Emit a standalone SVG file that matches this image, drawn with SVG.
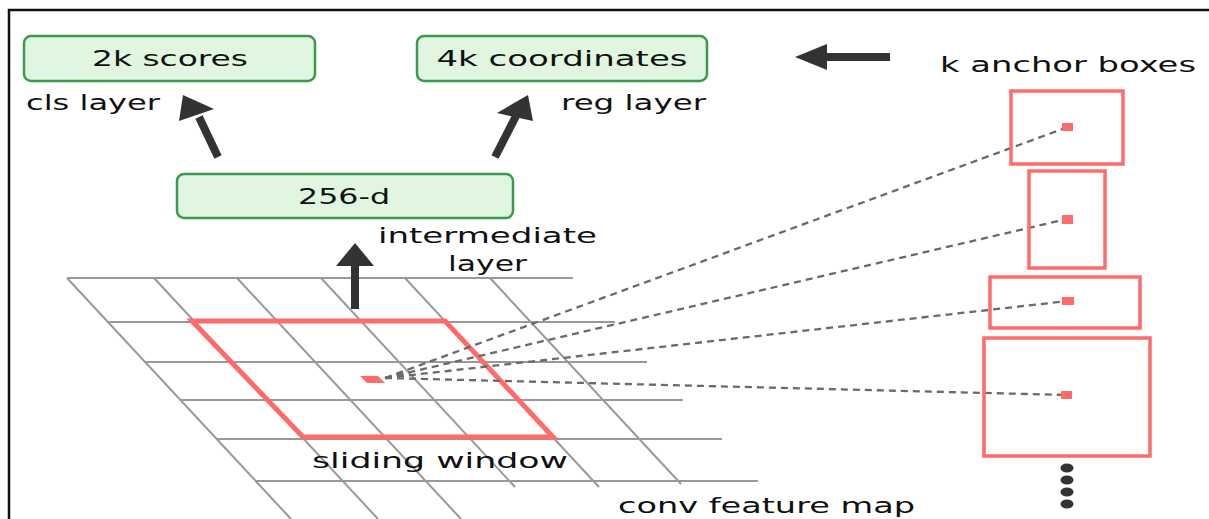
<svg xmlns="http://www.w3.org/2000/svg" width="1209" height="519" viewBox="0 0 1209 519">
<style>
.frame{stroke:#111;stroke-width:2.5;fill:none}
.node rect{fill:#e1f6e1;stroke:#3b9a4b;stroke-width:2.5}
.t{font-family:"DejaVu Sans","Liberation Sans",sans-serif;font-size:22px;fill:#111}
.grid line{stroke:#999;stroke-width:2}
.win{fill:none;stroke:#ff6b6b;stroke-width:5;stroke-linejoin:miter}
.anchor{fill:none;stroke:#ff6b6b;stroke-width:3.5}
.ctr{fill:#ff6b6b}
.dash{stroke:#6a6a6a;stroke-width:2.3;stroke-dasharray:7 5;fill:none}
.arr{stroke:#333;stroke-width:8;fill:none}
.head{fill:#333}
.dot{fill:#333}
</style>
<rect width="1209" height="519" fill="#fff"/>
<polyline class="frame" points="9,519 9,10 1209,10"/>

<g id="grid" class="grid">
<line x1="67" y1="278" x2="573" y2="278"/>
<line x1="108" y1="322" x2="615" y2="322"/>
<line x1="145" y1="362" x2="647" y2="362"/>
<line x1="180" y1="400" x2="683" y2="400"/>
<line x1="217" y1="439" x2="722" y2="439"/>
<line x1="256" y1="481" x2="758" y2="481"/>
<line x1="67" y1="278" x2="291" y2="519"/>
<line x1="154" y1="278" x2="378" y2="519"/>
<line x1="237" y1="278" x2="461" y2="519"/>
<line x1="321" y1="278" x2="515" y2="487"/>
<line x1="405" y1="278" x2="599" y2="487"/>
<line x1="490" y1="278" x2="681" y2="484"/>
</g>

<g id="sliding-window">
<polygon class="win" points="192,321 445,321 553,437 303,437"/>
<polygon class="ctr" points="360,376 378,376 385,383 367,383"/>
</g>

<g id="connectors">
<line class="dash" x1="385" y1="378" x2="1068" y2="127"/>
<line class="dash" x1="385" y1="378" x2="1067" y2="219"/>
<line class="dash" x1="385" y1="378" x2="1068" y2="301"/>
<line class="dash" x1="385" y1="378" x2="1067" y2="395"/>
<line class="arr" x1="218" y1="157" x2="199" y2="117"/>
<polygon class="head" points="183,95 179,121 214,109"/>
<line class="arr" x1="495" y1="157" x2="516" y2="116"/>
<polygon class="head" points="528,95 497,113 533,121"/>
<line class="arr" x1="355" y1="309" x2="355" y2="262"/>
<polygon class="head" points="355,243 336,266 374,266"/>
<line class="arr" x1="890" y1="57" x2="822" y2="57"/>
<polygon class="head" points="795,57 827,44 827,70"/>
</g>

<g id="node-scores" class="node">
<rect x="24" y="36" width="291" height="45" rx="7"/>
<text class="t" x="170" y="66" text-anchor="middle" textLength="156" lengthAdjust="spacingAndGlyphs">2k scores</text>
</g>
<g id="node-coords" class="node">
<rect x="417" y="36" width="290" height="45" rx="7"/>
<text class="t" x="562" y="66" text-anchor="middle" textLength="251" lengthAdjust="spacingAndGlyphs">4k coordinates</text>
</g>
<g id="node-256d" class="node">
<rect x="177" y="174" width="336" height="44" rx="7"/>
<text class="t" x="344" y="204" text-anchor="middle" textLength="92" lengthAdjust="spacingAndGlyphs">256-d</text>
</g>

<g id="labels">
<text class="t" x="26" y="110" textLength="134" lengthAdjust="spacingAndGlyphs">cls layer</text>
<text class="t" x="561" y="110" textLength="145" lengthAdjust="spacingAndGlyphs">reg layer</text>
<text class="t" x="940" y="72" textLength="256" lengthAdjust="spacingAndGlyphs">k anchor boxes</text>
<text class="t" x="378" y="243" textLength="219" lengthAdjust="spacingAndGlyphs">intermediate</text>
<text class="t" x="448" y="271" textLength="79" lengthAdjust="spacingAndGlyphs">layer</text>
<text class="t" x="312" y="468" textLength="256" lengthAdjust="spacingAndGlyphs">sliding window</text>
<text class="t" x="618" y="513" textLength="297" lengthAdjust="spacingAndGlyphs">conv feature map</text>
</g>

<g id="anchors">
<rect class="anchor" x="1011" y="91" width="112" height="73"/>
<rect class="anchor" x="1029" y="171" width="76" height="97"/>
<rect class="anchor" x="990" y="277" width="150" height="51"/>
<rect class="anchor" x="984" y="338" width="166" height="118"/>
<rect class="ctr" x="1062" y="123" width="11" height="8"/>
<rect class="ctr" x="1062" y="215" width="11" height="9"/>
<rect class="ctr" x="1062" y="297" width="12" height="8"/>
<rect class="ctr" x="1061" y="391" width="11" height="8"/>
<ellipse class="dot" cx="1067" cy="468" rx="6.5" ry="4.5"/>
<ellipse class="dot" cx="1067" cy="480" rx="6.5" ry="4.5"/>
<ellipse class="dot" cx="1067" cy="492" rx="6.5" ry="4.5"/>
<ellipse class="dot" cx="1067" cy="504" rx="6.5" ry="4.5"/>
</g>
</svg>
